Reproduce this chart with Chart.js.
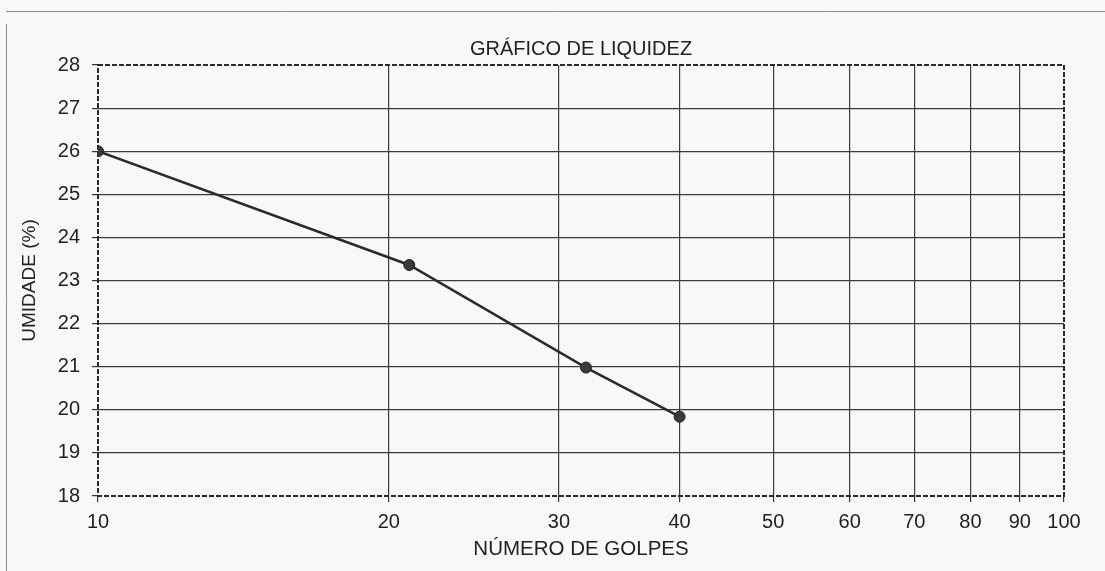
<!DOCTYPE html>
<html>
<head>
<meta charset="utf-8">
<script src="https://cdn.jsdelivr.net/npm/chart.js@4"></script>
<style>
  html, body { margin: 0; padding: 0; background: #f8f8f6; }
  #wrap { width: 1105px; height: 571px; position: relative; }
</style>
</head>
<body>
<div id="wrap"><canvas id="grafico"></canvas></div>
<script>
// Dados
const golpes = [10, 21, 32, 40];
const umidade = [26.0, 23.36, 20.98, 19.84];
const xTicks = [10, 20, 30, 40, 50, 60, 70, 80, 90, 100];
const yTicks = [18, 19, 20, 21, 22, 23, 24, 25, 26, 27, 28];

const fonte = "'Liberation Sans', Arial, sans-serif";
const corTexto = '#222';

// fundo + moldura da folha escaneada
const fundo = {
    id: 'fundo',
    beforeDraw(chart) {
        const ctx = chart.ctx;
        ctx.save();
        ctx.fillStyle = '#f8f8f6';
        ctx.fillRect(0, 0, chart.width, chart.height);
        ctx.strokeStyle = '#8a8a8a';
        ctx.lineWidth = 1;
        ctx.beginPath();
        ctx.moveTo(6, 11.5); ctx.lineTo(chart.width, 11.5);
        ctx.moveTo(6.5, 24); ctx.lineTo(6.5, chart.height);
        ctx.stroke();
        ctx.restore();
    }
};

// borda tracejada da área do gráfico
const bordaTracejada = {
    id: 'bordaTracejada',
    beforeDatasetsDraw(chart) {
        const {ctx, chartArea: a} = chart;
        ctx.save();
        ctx.strokeStyle = '#2a2a2a';
        ctx.lineWidth = 2;
        ctx.setLineDash([5, 2]);
        ctx.strokeRect(a.left, a.top, a.right - a.left, a.bottom - a.top);
        ctx.restore();
    }
};

const ctx = document.getElementById('grafico').getContext('2d');
new Chart(ctx, {
    type: 'line',
    data: {
        datasets: [{
            data: golpes.map((g, i) => ({x: g, y: umidade[i]})),
            borderColor: '#2b2b2b',
            borderWidth: 2.5,
            pointRadius: 5.5,
            pointBackgroundColor: '#3a3a3a',
            pointBorderColor: '#222',
            pointBorderWidth: 1,
            tension: 0
        }]
    },
    options: {
        responsive: true,
        maintainAspectRatio: false,
        animation: false,
        layout: { padding: { left: 0, right: 41, top: 0, bottom: 0 } },
        plugins: {
            legend: { display: false },
            tooltip: { enabled: false },
            title: {
                display: true,
                text: 'GRÁFICO DE LIQUIDEZ',
                fullSize: false,
                color: corTexto,
                font: { family: fonte, size: 20, weight: 'normal' },
                padding: { top: 37, bottom: 4 }
            }
        },
        scales: {
            x: {
                type: 'logarithmic',
                min: 10,
                max: 100,
                afterBuildTicks(scale) { scale.ticks = xTicks.map(v => ({value: v})); },
                afterFit(scale) { scale.height = 75; },
                ticks: {
                    color: corTexto,
                    font: { family: fonte, size: 20 },
                    padding: 8,
                    maxRotation: 0,
                    autoSkip: false,
                    callback: v => String(v)
                },
                grid: {
                    color: c => (c.tick && (c.tick.value === 10 || c.tick.value === 100)) ? 'rgba(0,0,0,0)' : '#3c3c3c',
                    tickColor: '#333',
                    tickLength: 6,
                    lineWidth: 1.2
                },
                border: { display: false },
                title: {
                    display: true,
                    text: 'NÚMERO DE GOLPES',
                    color: corTexto,
                    font: { family: fonte, size: 20.5 },
                    padding: { top: 0, bottom: 9 }
                }
            },
            y: {
                min: 18,
                max: 28,
                afterBuildTicks(scale) { scale.ticks = yTicks.map(v => ({value: v})); },
                afterFit(scale) { scale.width = 98; },
                ticks: {
                    color: corTexto,
                    font: { family: fonte, size: 20 },
                    padding: 12,
                    callback: v => String(v)
                },
                grid: {
                    color: c => (c.tick && (c.tick.value === 18 || c.tick.value === 28)) ? 'rgba(0,0,0,0)' : '#3c3c3c',
                    tickColor: '#333',
                    tickLength: 6,
                    lineWidth: 1.2
                },
                border: { display: false },
                title: {
                    display: true,
                    text: 'UMIDADE (%)',
                    color: corTexto,
                    font: { family: fonte, size: 19 },
                    padding: { top: 18, bottom: 0 }
                }
            }
        }
    },
    plugins: [fundo, bordaTracejada]
});
</script>
</body>
</html>
